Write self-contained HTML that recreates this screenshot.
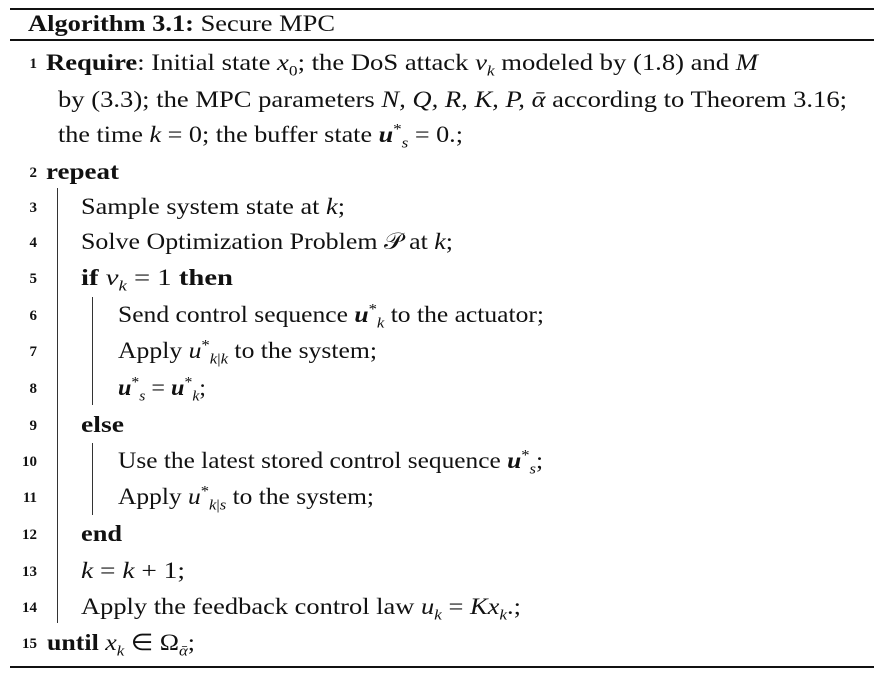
<!DOCTYPE html>
<html><head><meta charset="utf-8"><style>
body{margin:0;width:892px;height:673px;background:#fff;position:relative;overflow:hidden;font-family:"Liberation Serif","Times New Roman",serif;color:#111;}
.r{position:absolute;left:10px;width:864px;background:#111;}
.l{position:absolute;font-size:23px;white-space:nowrap;line-height:24px;transform-origin:0 50%;}
.n{position:absolute;font-size:15px;font-weight:bold;text-align:right;width:30px;left:7px;line-height:24px;}
.v{position:absolute;width:1.3px;background:#333;}
i{font-style:italic}
b.m{font-weight:bold;font-style:italic}
sub,sup{font-size:15px;line-height:0}
</style></head><body>
<div class="r" style="top:8px;height:2px"></div>
<div class="l" data-w="307" style="left:28px;top:12px"><b>Algorithm 3.1:</b> Secure MPC</div>
<div class="r" style="top:39px;height:1.5px"></div>

<div class="n" style="top:52px">1</div>
<div class="l" data-w="712" style="left:46px;top:51px"><b>Require</b>: Initial state <i>x</i><sub>0</sub>; the DoS attack <i>v<sub>k</sub></i> modeled by (1.8) and <i>M</i></div>
<div class="l" data-w="789" style="left:58px;top:88px">by (3.3); the MPC parameters <i>N, Q, R, K, P, ᾱ</i> according to Theorem 3.16;</div>
<div class="l" data-w="405" style="left:58px;top:123px">the time <i>k</i> = 0; the buffer state <b class="m">u</b><sup>*</sup><sub><i>s</i></sub> = 0.;</div>

<div class="n" style="top:161px">2</div>
<div class="l" data-w="73" style="left:46px;top:160px"><b>repeat</b></div>
<div class="v" style="left:57px;top:188px;height:435px"></div>

<div class="n" style="top:196px">3</div>
<div class="l" data-w="264" style="left:81px;top:195px">Sample system state at <i>k</i>;</div>
<div class="n" style="top:231px">4</div>
<div class="l" data-w="372" style="left:81px;top:230px">Solve Optimization Problem 𝒫 at <i>k</i>;</div>
<div class="n" style="top:267px">5</div>
<div class="l" data-w="152" style="left:81px;top:266px"><b>if</b> <i>ν<sub>k</sub></i> = 1 <b>then</b></div>
<div class="v" style="left:92px;top:297px;height:108px"></div>
<div class="n" style="top:304px">6</div>
<div class="l" data-w="426" style="left:118px;top:303px">Send control sequence <b class="m">u</b><sup>*</sup><sub><i>k</i></sub> to the actuator;</div>
<div class="n" style="top:340px">7</div>
<div class="l" data-w="259" style="left:118px;top:339px">Apply <i>u</i><sup>*</sup><sub><i>k</i>|<i>k</i></sub> to the system;</div>
<div class="n" style="top:377px">8</div>
<div class="l" data-w="88" style="left:118px;top:376px"><b class="m">u</b><sup>*</sup><sub><i>s</i></sub> = <b class="m">u</b><sup>*</sup><sub><i>k</i></sub>;</div>
<div class="n" style="top:414px">9</div>
<div class="l" data-w="43" style="left:81px;top:413px"><b>else</b></div>
<div class="v" style="left:92px;top:443px;height:72px"></div>
<div class="n" style="top:450px">10</div>
<div class="l" data-w="425" style="left:118px;top:449px">Use the latest stored control sequence <b class="m">u</b><sup>*</sup><sub><i>s</i></sub>;</div>
<div class="n" style="top:486px">11</div>
<div class="l" data-w="256" style="left:118px;top:485px">Apply <i>u</i><sup>*</sup><sub><i>k</i>|<i>s</i></sub> to the system;</div>
<div class="n" style="top:523px">12</div>
<div class="l" data-w="41" style="left:81px;top:522px"><b>end</b></div>
<div class="n" style="top:560px">13</div>
<div class="l" data-w="104" style="left:81px;top:559px"><i>k</i> = <i>k</i> + 1;</div>
<div class="n" style="top:596px">14</div>
<div class="l" data-w="440" style="left:81px;top:595px">Apply the feedback control law <i>u<sub>k</sub></i> = <i>Kx<sub>k</sub></i>.;</div>
<div class="n" style="top:632px">15</div>
<div class="l" data-w="148" style="left:47px;top:631px"><b>until</b> <i>x<sub>k</sub></i> ∈ Ω<sub><i>ᾱ</i></sub>;</div>
<div class="r" style="top:666px;height:2px"></div>
<script>
document.querySelectorAll('.l[data-w]').forEach(function(el){
  var w=el.getBoundingClientRect().width;
  var t=parseFloat(el.getAttribute('data-w'));
  if(w>0){el.style.transform='scaleX('+(t/w)+')';}
});
</script>
</body></html>
